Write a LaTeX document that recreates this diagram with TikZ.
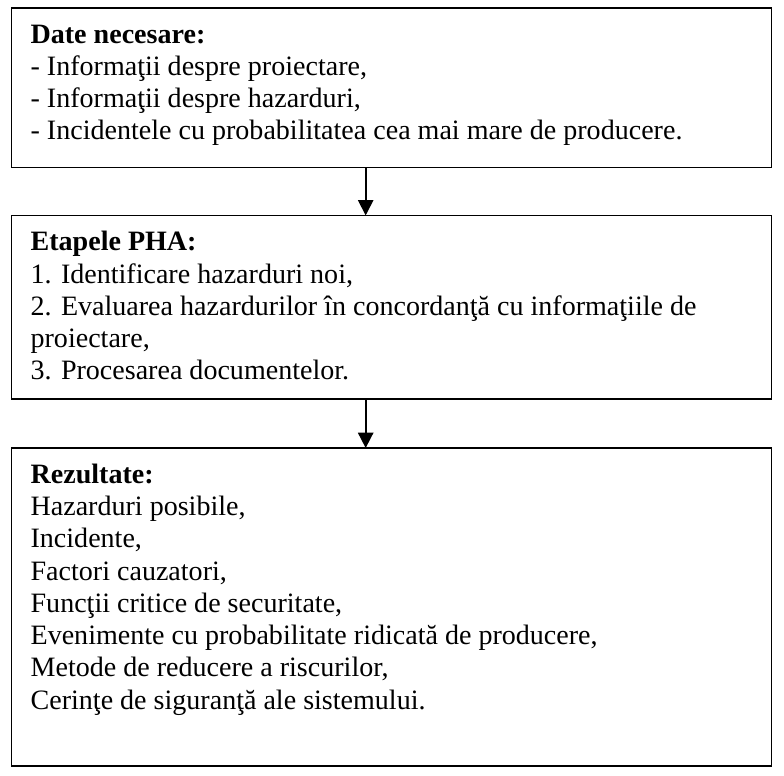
\documentclass[tikz,border=0pt]{standalone}
\usepackage{fontspec}
\setmainfont{Liberation Serif}
\usetikzlibrary{positioning,arrows.meta}

% body text of the three stages
\newcommand{\stagefont}{\fontsize{14.65pt}{16.85pt}\selectfont}
\newcommand{\stagetext}[2]{\parbox[t][#1][t]{377pt}{\rule{0pt}{18.5pt}#2}}

\begin{document}
\begin{tikzpicture}[
  stage/.style={draw, line width=0.9pt, inner xsep=10pt, inner ysep=0pt, outer sep=0pt, font=\stagefont},
  flow/.style={->, line width=0.9pt},
  >={Triangle[width=8pt,length=8pt]}
]
\useasboundingbox (0,0) rectangle (409.5pt,-405pt);

% === Input data ===
\node[stage, anchor=north west] (need) at (6pt,-4pt) {\stagetext{83.5pt}{%
  \textbf{Date necesare:}\\
  - Informaţii despre proiectare,\\
  - Informaţii despre hazarduri,\\
  - Incidentele cu probabilitatea cea mai mare de producere.}};

% === PHA steps ===
\node[stage, below=25pt of need] (steps) {\stagetext{96pt}{%
  \textbf{Etapele PHA:}\\
  1. Identificare hazarduri noi,\\
  2. Evaluarea hazardurilor în concordanţă cu informaţiile de\\
  proiectare,\\
  3. Procesarea documentelor.}};

% === Results ===
\node[stage, below=25.5pt of steps] (results) {\stagetext{166pt}{%
  \textbf{Rezultate:}\\
  Hazarduri posibile,\\
  Incidente,\\
  Factori cauzatori,\\
  Funcţii critice de securitate,\\
  Evenimente cu probabilitate ridicată de producere,\\
  Metode de reducere a riscurilor,\\
  Cerinţe de siguranţă ale sistemului.}};

% Arrows
\draw[flow] ([xshift=-13.5pt]need.south) -- ([xshift=-13.5pt]steps.north);
\draw[flow] ([xshift=-13.5pt]steps.south) -- ([xshift=-13.5pt]results.north);

\end{tikzpicture}
\end{document}
